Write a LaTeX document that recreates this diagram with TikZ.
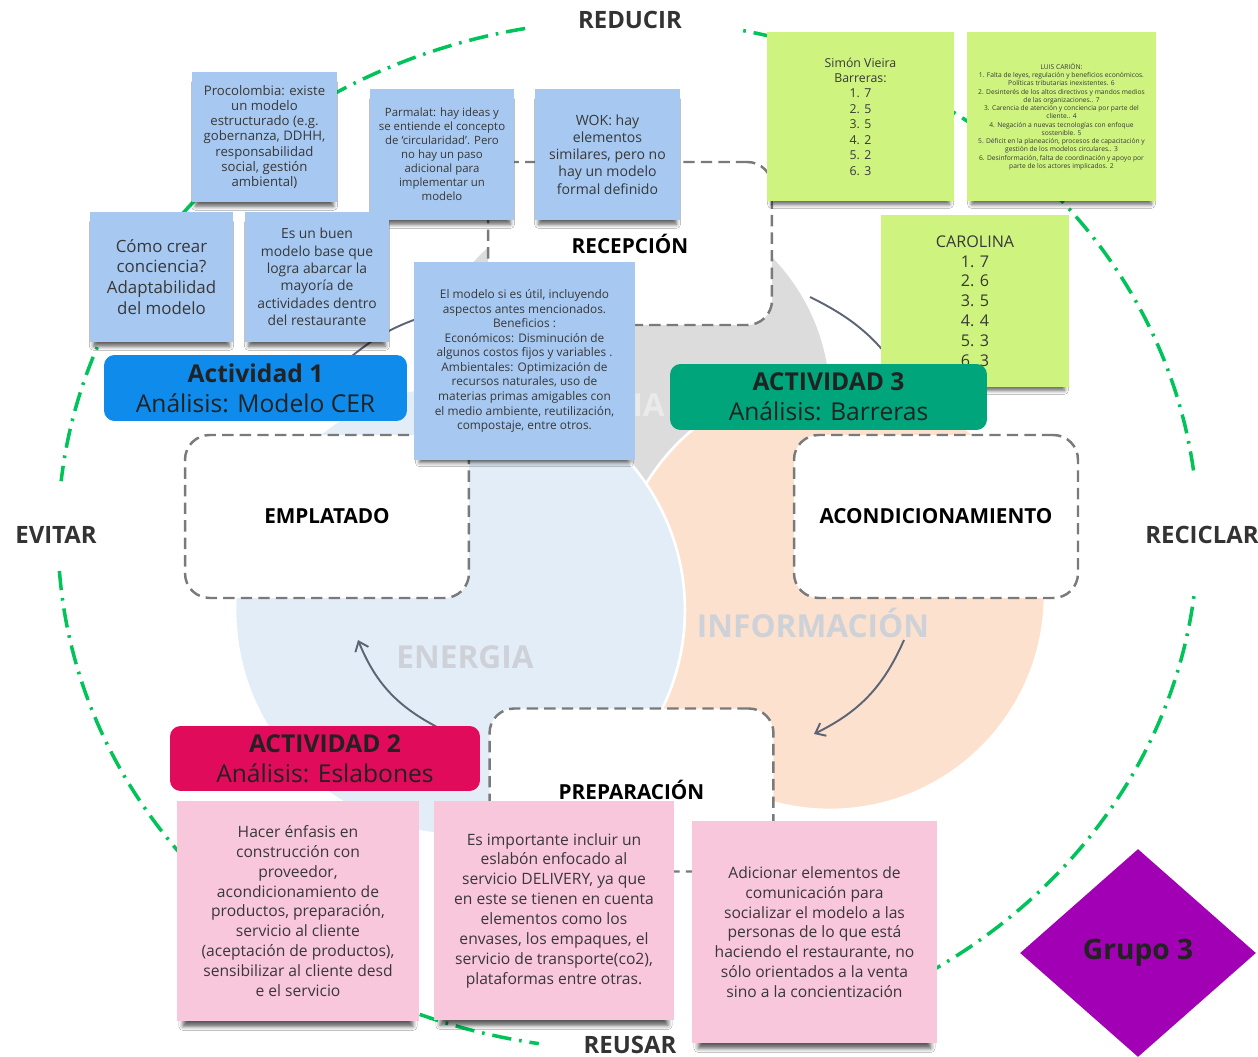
\documentclass[tikz,border=0pt]{standalone}
\usepackage{fontspec}
\setmainfont{Open Sans}
\usetikzlibrary{shapes.geometric,arrows.meta,shadows.blur}

\definecolor{cerGreen}{HTML}{00C45A}
\definecolor{noteBlue}{HTML}{A7C9F1}
\definecolor{noteGreen}{HTML}{CEF47F}
\definecolor{notePink}{HTML}{F9C7DC}
\definecolor{boxLine}{HTML}{7A7A7A}
\definecolor{ink}{HTML}{383838}
\definecolor{labelInk}{HTML}{333333}
\definecolor{regGray}{HTML}{DCDCDC}
\definecolor{regBlue}{HTML}{E3EDF8}
\definecolor{regPeach}{HTML}{FCE1CE}
\definecolor{faint}{HTML}{CED2D8}
\definecolor{faintLight}{HTML}{EAEAEA}
\definecolor{actOne}{HTML}{0F8CEB}
\definecolor{actTwo}{HTML}{E00B5B}
\definecolor{actThree}{HTML}{00A57B}
\definecolor{actInk}{HTML}{222222}
\definecolor{grupoFill}{HTML}{A100B5}
\definecolor{arrowInk}{HTML}{5D6575}

\begin{document}
\begin{tikzpicture}[x=0.02cm, y=-0.02cm,
  sticky/.style={align=center, text=ink, inner sep=0pt,
    blur shadow={shadow xshift=0pt, shadow yshift=#1, shadow scale=0.95,
                 shadow blur radius=2.5pt, shadow opacity=65}},
  sticky/.default=-4.5pt,
  bluenote/.style={sticky, fill=noteBlue},
  greennote/.style={sticky, fill=noteGreen},
  pinknote/.style={sticky=-6.5pt, fill=notePink, minimum width=4.84cm, minimum height=4.4cm,
    font=\fontsize{8.9}{11.3}\selectfont},
  stage/.style={draw=boxLine, fill=white, line width=1.4pt,
    dash pattern=on 6.5pt off 3.5pt, rounded corners=14pt,
    minimum width=5.68cm, minimum height=3.26cm,
    font=\fontsize{11.8}{13}\selectfont\bfseries, text=black},
  activity/.style={rounded corners=6pt, align=center, inner sep=0pt,
    font=\fontsize{14}{17}\selectfont, text=actInk},
  rlabel/.style={font=\fontsize{13.6}{15}\selectfont\bfseries, text=labelInk},
  faintword/.style={font=\fontsize{18}{20}\selectfont\bfseries},
  cycle/.style={draw=arrowInk, line width=1.1pt},
  cer/.style={draw=cerGreen, line width=2pt,
    dash pattern=on 11pt off 4.5pt on 1.5pt off 4.5pt},
]
\useasboundingbox (0,0) rectangle (1258,1057);
\fill[white] (0,0) rectangle (1258,1057);

% outer CER ring (dash-dot ellipse, broken at the four labels)
\draw[cer] plot[domain=7.2:78.7, samples=90] ({628+570*cos(\x)}, {535-515*sin(\x)});
\draw[cer] plot[domain=100.4:174, samples=90] ({628+570*cos(\x)}, {535-515*sin(\x)});
\draw[cer] plot[domain=184:261, samples=90] ({628+570*cos(\x)}, {535-515*sin(\x)});
\draw[cer] plot[domain=-78:-6, samples=90] ({628+570*cos(\x)}, {535-515*sin(\x)});

% three flow regions
\fill[regGray] (625,400) circle[radius=4.1cm];
\draw[white, line width=1.5pt, fill=regPeach] (830,595) circle[radius=4.3cm];
\draw[white, line width=1.5pt, fill=regBlue] (460,610) circle[radius=4.5cm];

\node[faintword, text=faintLight, anchor=east] (materia) at (671,405) {RIA};
\node[faintword, text=faint] (energia) at (465,657) {ENERGIA};
\node[faintword, text=faint] (informacion) at (813,623) {INFORMACIÓN};

% cycle arrows
\coordinate (c1s) at (810,297);  \coordinate (c1e) at (905,380);
\coordinate (c2s) at (904,640);  \coordinate (c2e) at (814,734);
\coordinate (c3s) at (437,727);  \coordinate (c3e) at (358,640);
\coordinate (c4s) at (352,356);  \coordinate (c4e) at (425,316);
\draw[cycle, -{Straight Barb[length=5pt,width=8pt]}] (c1s) to[bend left=15] (c1e);
\draw[cycle, -{Straight Barb[length=5pt,width=8pt]}] (c2s) to[bend left=20] (c2e);
\draw[cycle, -{Straight Barb[length=5pt,width=8pt]}] (c3s) to[bend left=20] (c3e);
\draw[cycle] (c4s) to[bend left=10] (c4e);

% process stages
\node[stage] (recepcion) at (630,243.5) {RECEPCIÓN};
\node[stage] (emplatado) at (327,516.5) {EMPLATADO};
\node[stage] (acondicionamiento) at (936,516.5) {ACONDICIONAMIENTO};
\node[stage] (preparacion) at (631.5,790) {PREPARACIÓN};

% ring labels
\node[rlabel] (reducir) at (630,20) {REDUCIR};
\node[rlabel] (evitar) at (56,535) {EVITAR};
\node[rlabel] (reciclar) at (1202,535) {RECICLAR};
\node[rlabel] (reusar) at (630,1045) {REUSAR};

% activity 1 notes
\node[bluenote, minimum width=2.9cm, minimum height=2.6cm,
  font=\fontsize{7.5}{8.7}\selectfont] (procolombia) at (264.5,137)
  {Procolombia: existe\\un modelo\\estructurado (e.g.\\gobernanza, DDHH,\\responsabilidad\\social, gestión\\ambiental)};
\node[bluenote, minimum width=2.88cm, minimum height=2.62cm,
  font=\fontsize{6.5}{8}\selectfont] (parmalat) at (442,154.5)
  {Parmalat: hay ideas y\\se entiende el concepto\\de `circularidad'. Pero\\no hay un paso\\adicional para\\implementar un\\modelo};
\node[bluenote, minimum width=2.9cm, minimum height=2.62cm,
  font=\fontsize{8}{9.8}\selectfont] (wok) at (607.5,154.5)
  {WOK: hay\\elementos\\similares, pero no\\hay un modelo\\formal definido};
\node[bluenote, minimum width=2.86cm, minimum height=2.6cm,
  font=\fontsize{9.6}{11.9}\selectfont] (conciencia) at (161.5,277)
  {Cómo crear\\conciencia?\\Adaptabilidad\\del modelo};
\node[bluenote, minimum width=2.88cm, minimum height=2.6cm,
  font=\fontsize{7.9}{9.9}\selectfont] (modelobase) at (317,277)
  {Es un buen\\modelo base que\\logra abarcar la\\mayoría de\\actividades dentro\\del restaurante};
\node[bluenote, minimum width=4.42cm, minimum height=3.96cm,
  font=\fontsize{6.75}{8.3}\selectfont] (beneficios) at (524.5,361)
  {El modelo si es útil, incluyendo\\aspectos antes mencionados.\\Beneficios :\\Económicos: Disminución de\\algunos costos fijos y variables .\\Ambientales: Optimización de\\recursos naturales, uso de\\materias primas amigables con\\el medio ambiente, reutilización,\\compostaje, entre otros.};

% activity 3 notes
\node[greennote, minimum width=3.74cm, minimum height=3.38cm,
  font=\fontsize{7}{8.8}\selectfont] (simon) at (860.5,116.5)
  {Simón Vieira\\Barreras:\\1. 7\\2. 5\\3. 5\\4. 2\\5. 2\\6. 3};
\node[greennote, minimum width=3.78cm, minimum height=3.38cm,
  font=\fontsize{3.8}{4.7}\selectfont] (luis) at (1061.5,116.5)
  {LUIS CARIÓN:\\1. Falta de leyes, regulación y beneficios económicos.\\Políticas tributarias inexistentes. 6\\2. Desinterés de los altos directivos y mandos medios\\de las organizaciones.. 7\\3. Carencia de atención y conciencia por parte del\\cliente.. 4\\4. Negación a nuevas tecnologías con enfoque\\sostenible. 5\\5. Déficit en la planeación, procesos de capacitación y\\gestión de los modelos circulares.. 3\\6. Desinformación, falta de coordinación y apoyo por\\parte de los actores implicados. 2};
\node[greennote, minimum width=3.76cm, minimum height=3.44cm,
  font=\fontsize{9.2}{11.3}\selectfont] (carolina) at (975,301)
  {CAROLINA\\1. 7\\2. 6\\3. 5\\4. 4\\5. 3\\6. 3};

% activity 2 notes
\node[pinknote] (enfasis) at (298,911)
  {Hacer énfasis en\\construcción con\\proveedor,\\acondicionamiento de\\productos, preparación,\\servicio al cliente\\(aceptación de productos),\\sensibilizar al cliente desd\\e el servicio};
\node[pinknote, minimum width=4.8cm, minimum height=4.38cm] (delivery) at (554,910.5)
  {Es importante incluir un\\eslabón enfocado al\\servicio DELIVERY, ya que\\en este se tienen en cuenta\\elementos como los\\envases, los empaques, el\\servicio de transporte(co2),\\plataformas entre otras.};
\node[pinknote, minimum width=4.9cm, minimum height=4.44cm] (comunicacion) at (814.5,932)
  {Adicionar elementos de\\comunicación para\\socializar el modelo a las\\personas de lo que está\\haciendo el restaurante, no\\sólo orientados a la venta\\sino a la concientización};

% activity headers
\node[activity, fill=actOne, minimum width=6.06cm, minimum height=1.32cm] (actividad1) at (255.5,388)
  {\textbf{Actividad 1}\\Análisis: Modelo CER};
\node[activity, fill=actThree, minimum width=6.34cm, minimum height=1.32cm] (actividad3) at (828.5,397)
  {\textbf{ACTIVIDAD 3}\\Análisis: Barreras};
\node[activity, fill=actTwo, minimum width=6.2cm, minimum height=1.3cm] (actividad2) at (325,758.5)
  {\textbf{ACTIVIDAD 2}\\Análisis: Eslabones};

% group tag
\node[diamond, fill=grupoFill, minimum width=4.72cm, minimum height=4.16cm, inner sep=0pt,
  font=\fontsize{16}{18}\selectfont\bfseries, text=actInk] (grupo) at (1138,953) {Grupo 3};
\end{tikzpicture}
\end{document}
